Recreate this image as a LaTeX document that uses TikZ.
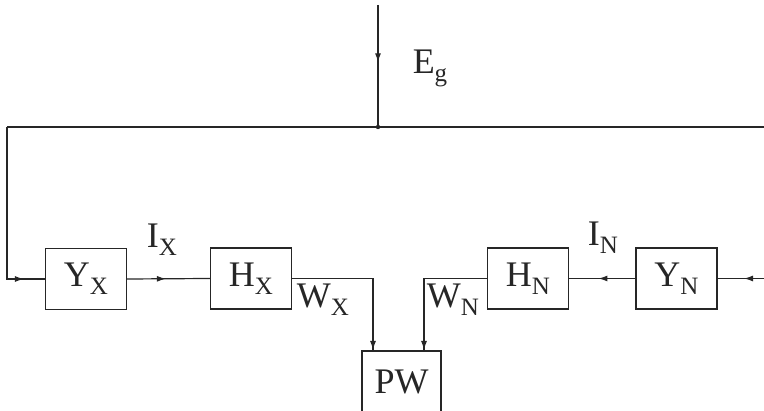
\documentclass[tikz,border=0pt]{standalone}
\usepackage{fontspec}
\setmainfont{Liberation Serif}
\usetikzlibrary{decorations.markings,arrows.meta}
\newcommand\mysub[1]{\raisebox{-0.22em}{\fontsize{25}{25}\selectfont #1}}
\tikzset{
  ink/.style={draw=black!85, line width=1.2pt},
  blk/.style={ink, rectangle, inner sep=0pt, minimum width=81pt, minimum height=61pt, text=black!85, font=\fontsize{36}{42}\selectfont},
  lbl/.style={inner sep=0pt, text=black!85, font=\fontsize{36}{42}\selectfont},
  arr/.style={postaction={decorate,decoration={markings,mark=at position #1 with {\arrow[black!85]{Latex[length=9pt,width=6pt]}}}}}
}
\begin{document}
\begin{tikzpicture}[x=1pt,y=-1pt]
\useasboundingbox (0,0) rectangle (764,411);
\clip (0,0) rectangle (764,411);
% blocks
\node[blk] (YX) at (86,279) {Y\mysub{X}};
\node[blk] (HX) at (251,278.5) {H\mysub{X}};
\node[blk] (HN) at (528,278.5) {H\mysub{N}};
\node[blk] (YN) at (676.5,278.5) {Y\mysub{N}};
\node[blk, minimum width=79pt, minimum height=62pt] (PW) at (401.5,382) {PW};
% coordinates
\coordinate (egtop) at (378,5);
\coordinate (junc) at (378,127);
\coordinate (busL) at (7,127);
\coordinate (busR) at (764,127);
\coordinate (rin) at (764,278.5);
\coordinate (pwA) at (373,351);
\coordinate (pwB) at (424,351);
% connectors
\draw[ink] (busL) -- (busR);
\draw[ink, arr=0.47] (egtop) -- (junc);
\fill[black!85] (junc) circle (2.2pt);
\draw[ink, arr=-21pt] (busL) |- (YX.west);
\draw[ink, arr=-44pt] (YX.east) -- (HX.west);
\draw[ink, arr=-1pt] (HX.east) -| (pwA);
\draw[ink, arr=-1pt] (HN.west) -| (pwB);
\draw[ink, arr=37pt] (YN.west) -- (HN.east);
\draw[ink, arr=20pt] (rin) -- (YN.east);
% labels
\node[lbl] (Eg) at (430,68) {E\mysub{g}};
\node[lbl] (IX) at (162,240) {I\mysub{X}};
\node[lbl] (WX) at (323,300) {W\mysub{X}};
\node[lbl] (WN) at (453,300) {W\mysub{N}};
\node[lbl] (IN) at (603,238) {I\mysub{N}};
\end{tikzpicture}
\end{document}
